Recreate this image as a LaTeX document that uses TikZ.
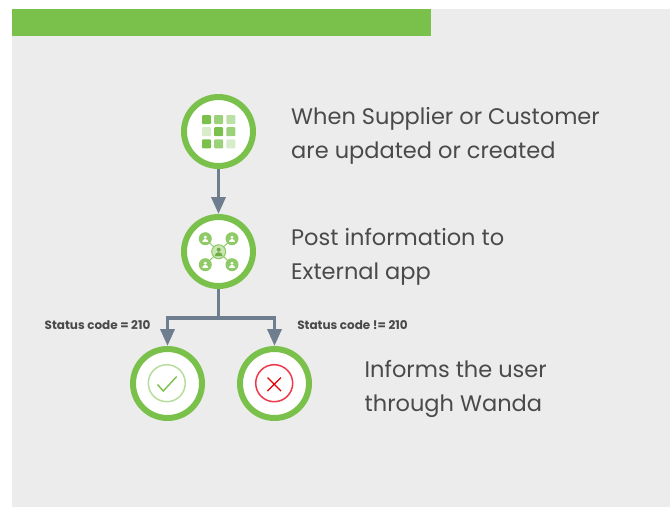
\documentclass[tikz,border=0pt]{standalone}
\usepackage{fontspec}
\setmainfont{Poppins}
\usepackage{tikz}
\usetikzlibrary{positioning,arrows.meta}
\definecolor{leaf}{HTML}{7AC14B}
\definecolor{slate}{HTML}{6E7E8E}
\definecolor{panel}{HTML}{ECECEC}
\definecolor{ink}{HTML}{4A4A4A}
\definecolor{alert}{HTML}{EE3A4C}
\begin{document}
\begin{tikzpicture}
		[x=1pt,y=-1pt,
		stepcircle/.style={circle,draw=leaf,line width=6pt,fill=white,minimum size=69pt,inner sep=0pt},
		flow/.style={draw=slate,line width=3.5pt,-{Triangle[length=17pt,width=14pt]}},
		link/.style={draw=slate,line width=3.5pt},
		caption/.style={text=ink,font=\fontsize{22.5}{34}\selectfont,align=left,anchor=west,inner sep=0pt},
		status/.style={text=ink,font=\fontsize{12}{14}\selectfont\bfseries,inner sep=0pt},
		]
		\useasboundingbox (0,0) rectangle (670,507);
		\fill[white] (0,0) rectangle (670,507);
		\fill[panel] (12,9) rectangle (670,507);
		\fill[leaf] (12,9) rectangle (431,36);
		
		\node[stepcircle] (grid) at (218.5,131.5) {};
		\node[stepcircle] (post) at (218.5,251.5) {};
		\node[stepcircle] (ok) at (167.5,383.5) {};
		\node[stepcircle] (fail) at (274.5,383.5) {};
		\coordinate (split) at (218.5,318);
		
		\draw[flow] (grid) -- (post);
		\draw[link] (post) -- (split);
		\draw[flow] (split) -| (ok);
		\draw[flow] (split) -| (fail);
		
		% grid icon
		\foreach \col/\row/\shade in {0/0/100,1/0/75,2/0/50,0/1/30,1/1/100,2/1/75,0/2/100,1/2/75,2/2/30}
			\fill[leaf!\shade,rounded corners=1pt] (202+12.2*\col,115+12.2*\row) rectangle +(9,9);
		
		% people icon
		\foreach \px/\py in {205.3/238.7,232/238.7,205.3/264.7,232/264.7}{
			\draw[leaf!80,line width=1pt] (218.7,251.7) -- (\px,\py);
			\fill[leaf!85] (\px,\py) circle (6.5pt);
			\fill[white] (\px,\py-1.5) circle (1.7pt);
			\fill[white] (\px-3,\py+3.2) arc[start angle=180,end angle=0,radius=3pt] -- cycle;
		}
		\draw[leaf!85,fill=leaf!40,line width=1pt] (218.7,251.7) circle (7pt);
		\fill[leaf!90!black] (218.7,249.7) circle (2pt);
		\fill[leaf!90!black] (214.7,256.2) arc[start angle=180,end angle=0,radius=4pt] -- cycle;
		
		% check and cross
		\draw[leaf!55,line width=1.5pt] (166.8,383.2) circle (18.5pt);
		\draw[leaf,line width=1.4pt] (157.5,384.5) -- (163.3,391) -- (176.7,376.5);
		\draw[alert,line width=1.5pt] (274.2,383.2) circle (18.5pt);
		\draw[red!90!black,line width=1.4pt] (267.5,377.5) -- (281,391) (281,377.5) -- (267.5,391);
		
		\node[caption] (whenlabel) at (291,136) {When Supplier or Customer\\are updated or created};
		\node[caption] (postlabel) at (291,257) {Post information to\\External app};
		\node[caption] (informlabel) at (364.5,388.5) {Informs the user\\through Wanda};
		\node[status] (oklabel) at (97.5,325) {Status code = 210};
		\node[status] (faillabel) at (352.5,325) {Status code != 210};
		
	\end{tikzpicture}
\end{document}
